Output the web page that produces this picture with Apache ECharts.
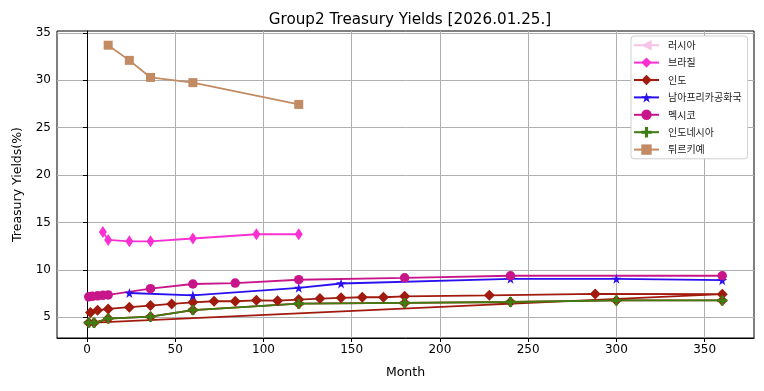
<!DOCTYPE html>
<html>
<head>
<meta charset="utf-8">
<script src="https://cdn.jsdelivr.net/npm/echarts@6/dist/echarts.min.js"></script>
<style>
  html, body { margin: 0; padding: 0; background: #fff; }
  #chart { width: 764px; height: 391px; }
</style>
</head>
<body>
<div id="chart"></div>
<script>
// ---- data ----
const seriesNames = ['러시아', '브라질', '인도', '남아프리카공화국', '멕시코', '인도네시아', '튀르키예'];

const russiaMonths = [];
const russiaYields = [];

const brazilMonths = [9, 12, 24, 36, 60, 96, 120];
const brazilYields = [14.0, 13.15, 13.0, 13.0, 13.3, 13.75, 13.75];

const indiaMonths = [2, 6, 12, 24, 36, 48, 60, 72, 84, 96, 108, 120, 132, 144, 156, 168, 180, 228, 288, 360];
const indiaYields = [5.5, 5.72, 5.87, 6.05, 6.22, 6.4, 6.57, 6.68, 6.68, 6.78, 6.74, 6.86, 6.96, 7.04, 7.1, 7.1, 7.2, 7.3, 7.45, 7.43];

const southAfricaMonths = [24, 60, 120, 144, 240, 300, 360];
const southAfricaYields = [7.55, 7.3, 8.1, 8.55, 9.05, 9.05, 8.9];

const mexicoMonths = [1, 3, 6, 9, 12, 36, 60, 84, 120, 180, 240, 360];
const mexicoYields = [7.15, 7.2, 7.25, 7.3, 7.35, 8.0, 8.5, 8.6, 8.95, 9.15, 9.37, 9.37];

const indonesiaMonths = [1, 4, 12, 36, 60, 120, 180, 240, 300, 360];
const indonesiaYields = [4.4, 4.4, 4.85, 5.05, 5.75, 6.42, 6.5, 6.6, 6.77, 6.77];

const turkeyMonths = [12, 24, 36, 60, 120];
const turkeyYields = [33.7, 32.1, 30.3, 29.75, 27.45];

const xTicks = [0, 50, 100, 150, 200, 250, 300, 350];
const yTicks = [5, 10, 15, 20, 25, 30, 35];

// ---- build ----
function pts(xs, ys) { return xs.map((x, i) => [x, ys[i]]); }

// the reference's India line also runs through the Indonesia rows (name match "인도")
const indiaAllMonths = indiaMonths.concat(indonesiaMonths);
const indiaAllYields = indiaYields.concat(indonesiaYields);

const STAR = 'path://M50,0 L61,35 L98,35 L68,57 L79,91 L50,70 L21,91 L32,57 L2,35 L39,35 Z';
const PLUS = 'path://M35,0 H65 V35 H100 V65 H65 V100 H35 V65 H0 V35 H35 Z';
const TRI_LEFT = 'path://M0,50 L100,0 L100,100 Z';

function mk(name, data, color, symbol, size) {
  return {
    name: name,
    type: 'line',
    data: data,
    symbol: symbol,
    symbolSize: size,
    showSymbol: true,
    lineStyle: { color: color, width: 1.8 },
    itemStyle: { color: color },
    emphasis: { disabled: true },
    animation: false
  };
}

const series = [
  mk(seriesNames[0], pts(russiaMonths, russiaYields), '#f7c3e6', TRI_LEFT, [9, 9]),
  mk(seriesNames[1], pts(brazilMonths, brazilYields), '#fb30d2', 'diamond', [8, 12]),
  mk(seriesNames[2], pts(indiaAllMonths, indiaAllYields), '#a01a0e', 'diamond', [11, 11]),
  mk(seriesNames[3], pts(southAfricaMonths, southAfricaYields), '#2a10f0', STAR, [10, 10]),
  mk(seriesNames[4], pts(mexicoMonths, mexicoYields), '#c8158a', 'circle', 9.5),
  mk(seriesNames[5], pts(indonesiaMonths, indonesiaYields), '#3f7d12', PLUS, [10, 10]),
  mk(seriesNames[6], pts(turkeyMonths, turkeyYields), '#c28b63', 'rect', [9, 9])
];

const chart = echarts.init(document.getElementById('chart'), null, { renderer: 'canvas' });
chart.setOption({
  animation: false,
  backgroundColor: '#fff',
  textStyle: { fontFamily: 'DejaVu Sans' },
  title: {
    text: 'Group2 Treasury Yields [2026.01.25.]',
    left: 405,
    textAlign: 'center',
    top: 8,
    textStyle: { fontFamily: 'DejaVu Sans', fontSize: 15.2, fontWeight: 'normal', color: '#000' }
  },
  legend: {
    data: seriesNames,
    orient: 'vertical',
    left: 631,
    top: 36,
    backgroundColor: '#fff',
    borderColor: '#d0d0d0',
    borderWidth: 1,
    borderRadius: 3,
    padding: [4, 6, 4, 2],
    itemGap: 7,
    itemWidth: 25,
    itemHeight: 13,
    textStyle: { fontFamily: 'Noto Sans CJK KR', fontSize: 10, color: '#222', padding: [0, 0, 0, 4] }
  },
  grid: {
    left: 57, right: 10, top: 31, bottom: 53,
    show: true, borderColor: '#000', borderWidth: 1, backgroundColor: 'transparent'
  },
  xAxis: {
    type: 'value',
    min: -17, max: 378,
    name: 'Month',
    nameLocation: 'middle',
    nameGap: 28,
    nameTextStyle: { fontFamily: 'DejaVu Sans', fontSize: 12.5, color: '#000' },
    axisLine: { show: true, lineStyle: { color: '#000', width: 1 } },
    axisTick: { show: true, customValues: xTicks, length: 4, lineStyle: { color: '#000' } },
    axisLabel: { customValues: xTicks, fontSize: 12, color: '#000', margin: 6, fontFamily: 'DejaVu Sans' },
    splitLine: { show: true, lineStyle: { color: '#b0b0b0', width: 1 } }
  },
  yAxis: {
    type: 'value',
    min: 2.8, max: 35.2,
    name: 'Treasury Yields(%)',
    nameLocation: 'middle',
    nameGap: 33,
    nameTextStyle: { fontFamily: 'DejaVu Sans', fontSize: 12.5, color: '#000' },
    axisLine: { show: true, lineStyle: { color: '#000', width: 1 } },
    axisTick: { show: true, customValues: yTicks, length: 4, lineStyle: { color: '#000' } },
    axisLabel: { customValues: yTicks, fontSize: 12, color: '#000', margin: 6, fontFamily: 'DejaVu Sans' },
    splitLine: { show: true, lineStyle: { color: '#b0b0b0', width: 1 } }
  },
  series: series
});
</script>
</body>
</html>
